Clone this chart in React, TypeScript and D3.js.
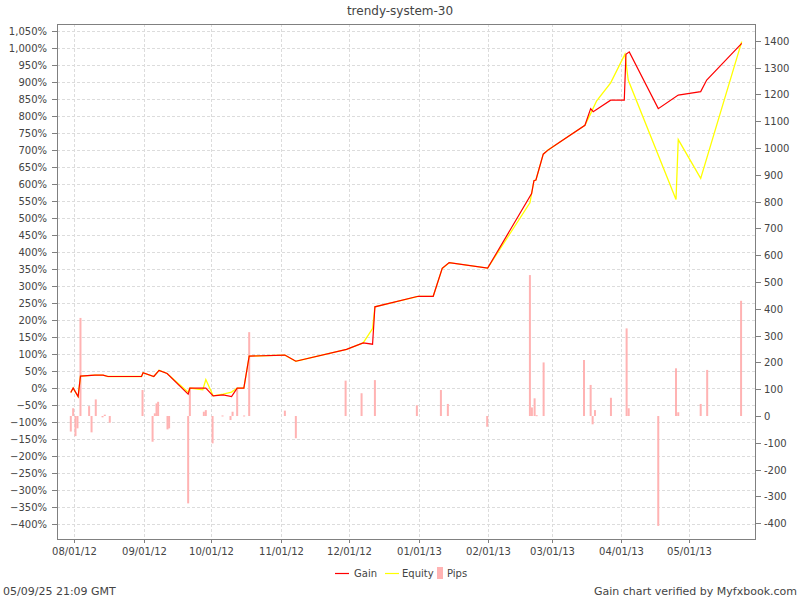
import React from "react";
import * as d3 from "d3";

const parse = d3.utcParse("%Y-%m-%d %H:%M");

const xDomain = ["2012-07-24 13:00", "2013-05-30 18:00"];
const monthTicks = [
  "2012-08-01 00:00", "2012-09-01 00:00", "2012-10-01 00:00", "2012-11-01 00:00", "2012-12-01 00:00",
  "2013-01-01 00:00", "2013-02-01 00:00", "2013-03-01 00:00", "2013-04-01 00:00", "2013-05-01 00:00",
];

const gainDates = [
  "2012-07-30 16:00", "2012-07-31 17:00", "2012-08-02 22:00", "2012-08-03 23:00", "2012-08-10 08:00",
  "2012-08-14 00:00", "2012-08-16 05:00", "2012-08-31 01:00", "2012-08-31 18:00", "2012-09-05 12:00",
  "2012-09-07 20:00", "2012-09-11 10:00", "2012-09-20 18:00", "2012-09-21 12:00", "2012-09-28 14:00",
  "2012-10-01 20:00", "2012-10-06 07:00", "2012-10-10 00:00", "2012-10-12 12:00", "2012-10-15 11:00",
  "2012-10-17 20:00", "2012-11-02 16:00", "2012-11-07 13:00", "2012-11-30 01:00", "2012-12-07 10:00",
  "2012-12-11 14:00", "2012-12-12 15:00", "2012-12-31 20:00", "2013-01-07 12:00", "2013-01-11 12:00",
  "2013-01-14 14:00", "2013-01-31 16:00", "2013-02-20 04:00", "2013-02-21 05:00", "2013-02-22 02:00",
  "2013-02-25 08:00", "2013-02-27 10:00", "2013-03-04 18:00", "2013-03-15 20:00", "2013-03-18 09:00",
  "2013-03-19 12:00", "2013-03-27 06:00", "2013-04-02 07:00", "2013-04-03 01:00", "2013-04-04 12:00",
  "2013-04-17 09:00", "2013-04-26 06:00", "2013-05-06 05:00", "2013-05-08 21:00", "2013-05-24 10:00",
];
const gainValues = [
  -13, 0, -25, 35, 38, 38, 34, 34, 45, 34,
  52, 43, -18, 0, 0, -23, -20, -25, 0, 0,
  94, 97, 79, 114, 133, 129, 239, 270, 270, 352,
  369, 353, 572, 610, 612, 688, 700, 724, 773, 822,
  813, 847, 847, 982, 989, 822, 862, 872, 906, 1014,
];

const equityDates = [
  "2012-07-30 16:00", "2012-07-31 17:00", "2012-08-02 22:00", "2012-08-03 23:00", "2012-08-10 08:00",
  "2012-08-14 00:00", "2012-08-16 05:00", "2012-08-31 01:00", "2012-08-31 18:00", "2012-09-05 12:00",
  "2012-09-07 20:00", "2012-09-11 10:00", "2012-09-20 18:00", "2012-09-21 12:00", "2012-09-27 06:00",
  "2012-09-28 14:00", "2012-10-01 20:00", "2012-10-06 07:00", "2012-10-10 00:00", "2012-10-12 12:00",
  "2012-10-15 11:00", "2012-10-17 20:00", "2012-11-02 16:00", "2012-11-07 13:00", "2012-11-30 01:00",
  "2012-12-07 10:00", "2012-12-11 14:00", "2012-12-12 15:00", "2012-12-31 20:00", "2013-01-07 12:00",
  "2013-01-11 12:00", "2013-01-14 14:00", "2013-01-31 16:00", "2013-02-19 10:00", "2013-02-21 05:00",
  "2013-02-22 02:00", "2013-02-25 08:00", "2013-02-27 10:00", "2013-03-04 18:00", "2013-03-15 20:00",
  "2013-03-18 01:00", "2013-03-21 01:00", "2013-03-27 06:00", "2013-04-02 14:00", "2013-04-04 01:00",
  "2013-04-25 06:00", "2013-04-26 06:00", "2013-05-06 05:00", "2013-05-24 10:00",
];
const equityValues = [
  -13, 0, -25, 35, 38, 38, 34, 34, 45, 34,
  52, 43, -12, 0, -5, 25, -23, -18, -12, 0,
  0, 94, 97, 79, 114, 133, 175, 239, 270, 270,
  352, 369, 353, 545, 610, 612, 688, 700, 724, 773,
  803, 845, 898, 982, 906, 555, 731, 617, 1019,
];

const pipDates = [
  "2012-07-30 16:00", "2012-07-31 17:00", "2012-08-01 18:00", "2012-08-02 15:00", "2012-08-03 23:00",
  "2012-08-07 19:00", "2012-08-08 21:00", "2012-08-10 18:00", "2012-08-13 18:00", "2012-08-14 18:00",
  "2012-08-16 23:00", "2012-08-31 12:00", "2012-09-04 23:00", "2012-09-05 23:00", "2012-09-06 17:00",
  "2012-09-07 10:00", "2012-09-11 14:00", "2012-09-12 07:00", "2012-09-20 18:00", "2012-09-21 12:00",
  "2012-09-27 17:00", "2012-09-28 14:00", "2012-10-01 14:00", "2012-10-06 00:00", "2012-10-09 13:00",
  "2012-10-10 11:00", "2012-10-12 12:00", "2012-10-15 14:00", "2012-10-17 20:00", "2012-11-02 16:00",
  "2012-11-07 13:00", "2012-11-29 15:00", "2012-12-06 17:00", "2012-12-12 15:00", "2012-12-31 06:00",
  "2013-01-10 22:00", "2013-01-14 00:00", "2013-01-31 11:00", "2013-02-19 10:00", "2013-02-20 07:00",
  "2013-02-21 12:00", "2013-02-22 10:00", "2013-02-25 12:00", "2013-03-15 10:00", "2013-03-18 09:00",
  "2013-03-19 06:00", "2013-03-20 07:00", "2013-03-27 09:00", "2013-04-03 08:00", "2013-04-04 06:00",
  "2013-04-17 09:00", "2013-04-25 06:00", "2013-04-26 06:00", "2013-05-06 05:00", "2013-05-09 02:00",
  "2013-05-24 03:00",
];
const pipValues = [
  -58, 29, -75, -46, 366,
  37, -61, 62, -5, 5,
  -25, 97, -96, 10, 47,
  53, -50, -46, -326, 103,
  16, 22, -102, 2, -15,
  16, 103, 2, 313, 20,
  -83, 132, 85, 134, 40,
  97, 45, -40, 526, 32,
  66, 3, 200, 209, 116,
  -31, 22, 68, 327, 29,
  -410, 178, 14, 45, 172,
  430,
];

const gainTicks = d3.range(-400, 1051, 50);
const pipTicks = d3.range(-400, 1401, 100);

const title = "trendy-system-30";
const footerLeft = "05/09/25 21:09 GMT";
const footerRight = "Gain chart verified by Myfxbook.com";
const legendLabels = ["Gain", "Equity", "Pips"];

const W = 800, H = 600;
const L = 57, R = 756, T = 24, B = 539;
const FONT = "DejaVu Sans, sans-serif";
const TEXT = "#444";
const AXIS = "#808080";

export default function App() {
  const x = d3.scaleUtc().domain(xDomain.map((s) => parse(s) as Date)).range([L, R]);
  const yL = d3.scaleLinear().domain([-444, 1071]).range([B, T]);
  const yR = d3.scaleLinear().domain([-459, 1463]).range([B, T]);

  const gain = gainDates.map((d, i) => [parse(d) as Date, gainValues[i]] as [Date, number]);
  const equity = equityDates.map((d, i) => [parse(d) as Date, equityValues[i]] as [Date, number]);
  const pips = pipDates.map((d, i) => ({ d: parse(d) as Date, v: pipValues[i] }));
  const ticks = monthTicks.map((s) => parse(s) as Date);
  const fmt = d3.utcFormat("%m/%d/%y");
  const pctFmt = (v: number) => d3.format(",")(v) + "%";

  const line = d3
    .line<[Date, number]>()
    .x((p) => x(p[0]))
    .y((p) => yL(p[1]));

  return (
    <svg width={W} height={H} style={{ position: "absolute", left: 0, top: 0, background: "#fff" }} fontFamily={FONT}>
      <rect x={0} y={0} width={W} height={H} fill="#fff" />
      <text x={400} y={15} textAnchor="middle" fontSize={12} fill={TEXT}>{title}</text>

      {/* grid */}
      <g stroke="#dcdcdc" strokeDasharray="3,2" strokeWidth={1}>
        {gainTicks.map((t) => (
          <line key={"h" + t} x1={L} x2={R} y1={Math.round(yL(t)) + 0.5} y2={Math.round(yL(t)) + 0.5} />
        ))}
        {ticks.map((t, i) => (
          <line key={"v" + i} x1={Math.round(x(t)) + 0.5} x2={Math.round(x(t)) + 0.5} y1={T} y2={B} />
        ))}
      </g>

      {/* pips bars */}
      <g fill="#ffb3b3">
        {pips.map((p, i) => {
          const y0 = yR(0), y1 = yR(p.v);
          return <rect key={i} x={x(p.d) - 1} width={2} y={Math.min(y0, y1)} height={Math.max(1, Math.abs(y1 - y0))} />;
        })}
      </g>

      <path d={line(equity) || ""} fill="none" stroke="#ffff00" strokeWidth={1.3} />
      <path d={line(gain) || ""} fill="none" stroke="#ff0000" strokeWidth={1.2} />

      {/* frame */}
      <rect x={L + 0.5} y={T + 0.5} width={R - L - 1} height={B - T} fill="none" stroke={AXIS} strokeWidth={1} />

      {/* axes */}
      <g fontSize={10} fill={TEXT}>
        {gainTicks.map((t) => {
          const yy = Math.round(yL(t)) + 0.5;
          return (
            <g key={"l" + t}>
              <line x1={L - 5} x2={L} y1={yy} y2={yy} stroke={AXIS} />
              <text x={L - 10} y={yy} dy="0.35em" textAnchor="end">{pctFmt(t)}</text>
            </g>
          );
        })}
        {pipTicks.map((t) => {
          const yy = Math.round(yR(t)) + 0.5;
          return (
            <g key={"r" + t}>
              <line x1={R} x2={R + 5} y1={yy} y2={yy} stroke={AXIS} />
              <text x={R + 8} y={yy} dy="0.35em" textAnchor="start">{t}</text>
            </g>
          );
        })}
        {ticks.map((t, i) => {
          const xx = Math.round(x(t)) + 0.5;
          return (
            <g key={"x" + i}>
              <line x1={xx} x2={xx} y1={B} y2={B + 4} stroke={AXIS} />
              <text x={xx} y={B + 16} textAnchor="middle">{fmt(t)}</text>
            </g>
          );
        })}
      </g>

      {/* legend */}
      <g fontSize={10} fill={TEXT}>
        <line x1={335} x2={349} y1={573.5} y2={573.5} stroke="#ff0000" strokeWidth={1.2} />
        <text x={354} y={577}>{legendLabels[0]}</text>
        <line x1={385} x2={399} y1={573.5} y2={573.5} stroke="#ffff00" strokeWidth={1.2} />
        <text x={402} y={577}>{legendLabels[1]}</text>
        <rect x={437} y={567} width={6} height={12} fill="#ffb3b3" />
        <text x={447} y={577}>{legendLabels[2]}</text>
      </g>

      <text x={3} y={595} fontSize={11} fill={TEXT}>{footerLeft}</text>
      <text x={797} y={595} fontSize={11} fill={TEXT} textAnchor="end">{footerRight}</text>
    </svg>
  );
}
